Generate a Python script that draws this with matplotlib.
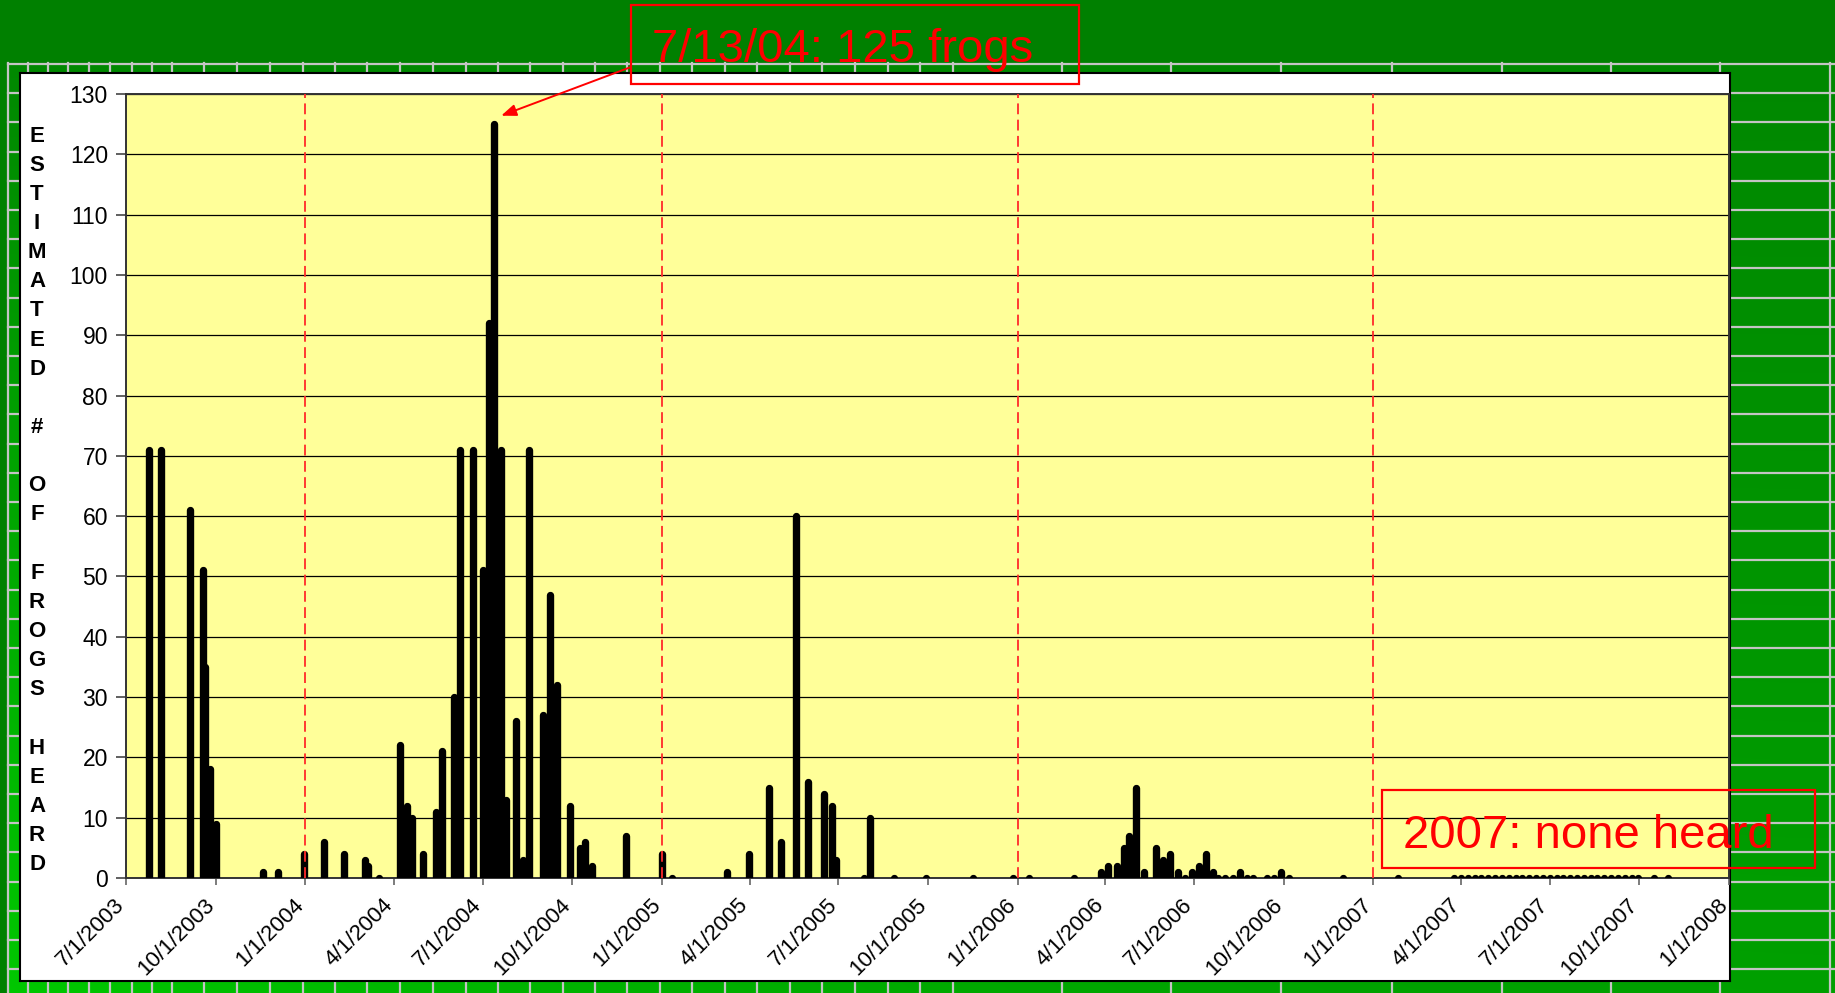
import numpy as np
import pandas as pd
import matplotlib
matplotlib.use("Agg")
from matplotlib import pyplot as plt
import matplotlib.dates as mdates
from matplotlib.patches import Rectangle
from matplotlib.ticker import FuncFormatter, MultipleLocator
from matplotlib.transforms import ScaledTranslation

plt.rcParams['font.family'] = ['Liberation Sans', 'DejaVu Sans']

# survey nights and frogs heard
survey_dates = [
    '2003-07-25', '2003-08-06', '2003-09-05', '2003-09-18', '2003-09-20', '2003-09-25', '2003-10-01',
    '2003-11-19', '2003-12-04', '2003-12-31',
    '2004-01-20', '2004-02-10', '2004-03-02', '2004-03-05', '2004-03-17',
    '2004-04-07', '2004-04-14', '2004-04-20', '2004-05-01', '2004-05-14', '2004-05-20',
    '2004-06-02', '2004-06-08', '2004-06-21', '2004-07-01', '2004-07-07', '2004-07-13', '2004-07-20', '2004-07-25',
    '2004-08-04', '2004-08-11', '2004-08-18', '2004-09-01', '2004-09-08', '2004-09-15', '2004-09-29',
    '2004-10-09', '2004-10-14', '2004-10-21', '2004-11-25',
    '2005-01-01', '2005-01-11', '2005-03-09', '2005-03-31', '2005-04-21', '2005-05-03', '2005-05-19', '2005-05-31',
    '2005-06-16', '2005-06-24', '2005-06-29', '2005-07-27', '2005-08-03', '2005-08-27', '2005-09-29',
    '2005-11-16', '2005-12-27',
    '2006-01-13', '2006-02-28', '2006-03-28', '2006-04-04', '2006-04-13', '2006-04-20', '2006-04-25',
    '2006-05-02', '2006-05-11', '2006-05-23', '2006-05-30', '2006-06-06', '2006-06-15', '2006-06-22',
    '2006-06-29', '2006-07-06', '2006-07-13', '2006-07-20', '2006-07-26', '2006-08-02', '2006-08-10',
    '2006-08-17', '2006-08-24', '2006-08-31', '2006-09-14', '2006-09-21', '2006-09-28', '2006-10-06',
    '2006-12-01',
    '2007-01-26', '2007-03-25', '2007-04-01', '2007-04-08', '2007-04-15', '2007-04-22', '2007-04-29',
    '2007-05-06', '2007-05-13', '2007-05-20', '2007-05-27', '2007-06-03', '2007-06-10', '2007-06-17',
    '2007-06-24', '2007-07-01', '2007-07-08', '2007-07-15', '2007-07-22', '2007-07-29', '2007-08-05',
    '2007-08-12', '2007-08-19', '2007-08-26', '2007-09-02', '2007-09-09', '2007-09-16', '2007-09-23',
    '2007-09-30', '2007-10-16', '2007-10-30',
]
frogs_heard = [
    71, 71, 61, 51, 35, 18, 9,
    1, 1, 4,
    6, 4, 3, 2, 0,
    22, 12, 10, 4, 11, 21,
    30, 71, 71, 51, 92, 125, 71, 13,
    26, 3, 71, 27, 47, 32, 12,
    5, 6, 2, 7,
    4, 0, 1, 4, 15, 6, 60, 16,
    14, 12, 3, 0, 10, 0, 0,
    0, 0,
    0, 0, 1, 2, 2, 5, 7,
    15, 1, 5, 3, 4, 1, 0,
    1, 2, 4, 1, 0, 0, 0,
    1, 0, 0, 0, 0, 1, 0,
    0,
    0, 0, 0, 0, 0, 0, 0,
    0, 0, 0, 0, 0, 0, 0,
    0, 0, 0, 0, 0, 0, 0,
    0, 0, 0, 0, 0, 0, 0,
    0, 0, 0,
]
year_marks = ['2004-01-01', '2005-01-01', '2006-01-01', '2007-01-01']
x_range = ['2003-07-01', '2008-01-01']
ylabel_text = "ESTIMATED # OF FROGS HEARD"
peak_text = "7/13/04: 125 frogs"
none_text = "2007: none heard"

W, H = 1835, 993
fig = plt.figure(figsize=(W / 100, H / 100), dpi=100, facecolor='#008000')


def box(l, t, r, b):
    return [l / W, 1 - b / H, (r - l) / W, (b - t) / H]


# green tiled backdrop
bg = fig.add_axes([0, 0, 1, 1])
yy, xx = np.mgrid[63:H, 8:W]
img = np.zeros(yy.shape + (3,))
img[..., 1] = (136 + (yy - 63) / (H - 63) * (24 + 40 * (1 - xx / W) ** 2)) / 255
bg.imshow(img, extent=[8, W, H, 63], aspect='auto', interpolation='bilinear')
for y in np.arange(64, H, 29.2):
    bg.plot([8, W], [y, y], color='#c4c4c4', lw=1.6)
grid_x = [8, 28, 48, 68, 89, 110, 132, 152, 172, 204, 237, 270, 303, 335, 367, 400, 433,
          466, 498, 530, 563, 595, 627, 660, 692, 725, 757, 790, 822, 855, 888, 920, 953,
          1062, 1171, 1281, 1392, 1502, 1611, 1720, 1830]
for gx in grid_x:
    bg.plot([gx, gx], [63, H], color='#c4c4c4', lw=1.6)
bg.set_xlim(0, W)
bg.set_ylim(H, 0)
bg.axis('off')

# white chart panel
panel = fig.add_axes(box(20, 73, 1730, 981))
panel.set_xticks([])
panel.set_yticks([])
for s in panel.spines.values():
    s.set_color('black')
    s.set_linewidth(1.5)

# plot area
ax = fig.add_axes(box(126, 94, 1729, 878))
ax.set_facecolor('#ffff99')
x = mdates.date2num(pd.to_datetime(survey_dates))
# start below the axis so the round cap of zero counts shows as a dot
ax.vlines(x, -2, frogs_heard, colors='black', lw=5.3, capstyle='round', zorder=3)
for d in year_marks:
    ax.axvline(mdates.date2num(pd.Timestamp(d)), color='#ff2a2a', lw=1.3,
               ls=(0, (6, 3)), zorder=4)

ax.set_xlim(mdates.date2num(pd.to_datetime(x_range)))
ax.set_ylim(0, 130)
ax.yaxis.set_major_locator(MultipleLocator(10))
ax.yaxis.grid(True, color='black', lw=0.9)
ax.set_axisbelow(True)
ax.xaxis.set_major_locator(mdates.MonthLocator(bymonth=(1, 4, 7, 10)))


def fmt_date(v, pos):
    d = mdates.num2date(v)
    return f"{d.month}/{d.day}/{d.year}"


ax.xaxis.set_major_formatter(FuncFormatter(fmt_date))
ax.tick_params(axis='y', length=7, width=1.2, color='#444444', labelsize=16.5, pad=6)
ax.tick_params(axis='x', length=5, width=1.2, color='#666666', labelsize=16, pad=7)
shift = ScaledTranslation(-12 / 100, 0, fig.dpi_scale_trans)
for lab in ax.get_xticklabels():
    lab.set_rotation(45)
    lab.set_ha('right')
    lab.set_va('top')
    lab.set_rotation_mode('anchor')
    lab.set_transform(lab.get_transform() + shift)
for s in ax.spines.values():
    s.set_color('#333333')
    s.set_linewidth(1.4)

# overlay in pixel coordinates for the callouts
ov = fig.add_axes([0, 0, 1, 1])
ov.set_xlim(0, W)
ov.set_ylim(H, 0)
ov.axis('off')

letters = []
for word in ylabel_text.split(' '):
    letters.extend(list(word))
    letters.append('')
for i, ch in enumerate(letters[:-1]):
    ov.text(37, 136 + i * 29.15, ch, ha='center', va='center', fontsize=16,
            fontweight='bold', color='black')

ov.add_patch(Rectangle((631, 5), 448, 79, fill=False, ec='red', lw=1.6))
ov.text(652, 62, peak_text, color='red', fontsize=34, ha='left', va='baseline')
ov.add_patch(Rectangle((1382, 790), 433, 78, fill=False, ec='red', lw=1.6))
ov.text(1403, 848, none_text, color='red', fontsize=34, ha='left', va='baseline')

peak = int(np.argmax(frogs_heard))
ax.annotate('', xy=(x[peak] + 7, frogs_heard[peak] + 1.4), xytext=(631, 67),
            textcoords=ov.transData, annotation_clip=False,
            arrowprops=dict(arrowstyle='-|>,head_length=0.9,head_width=0.35',
                            color='red', lw=1.4, shrinkA=0, shrinkB=0))

fig.savefig('out.png', dpi=100, facecolor=fig.get_facecolor())
